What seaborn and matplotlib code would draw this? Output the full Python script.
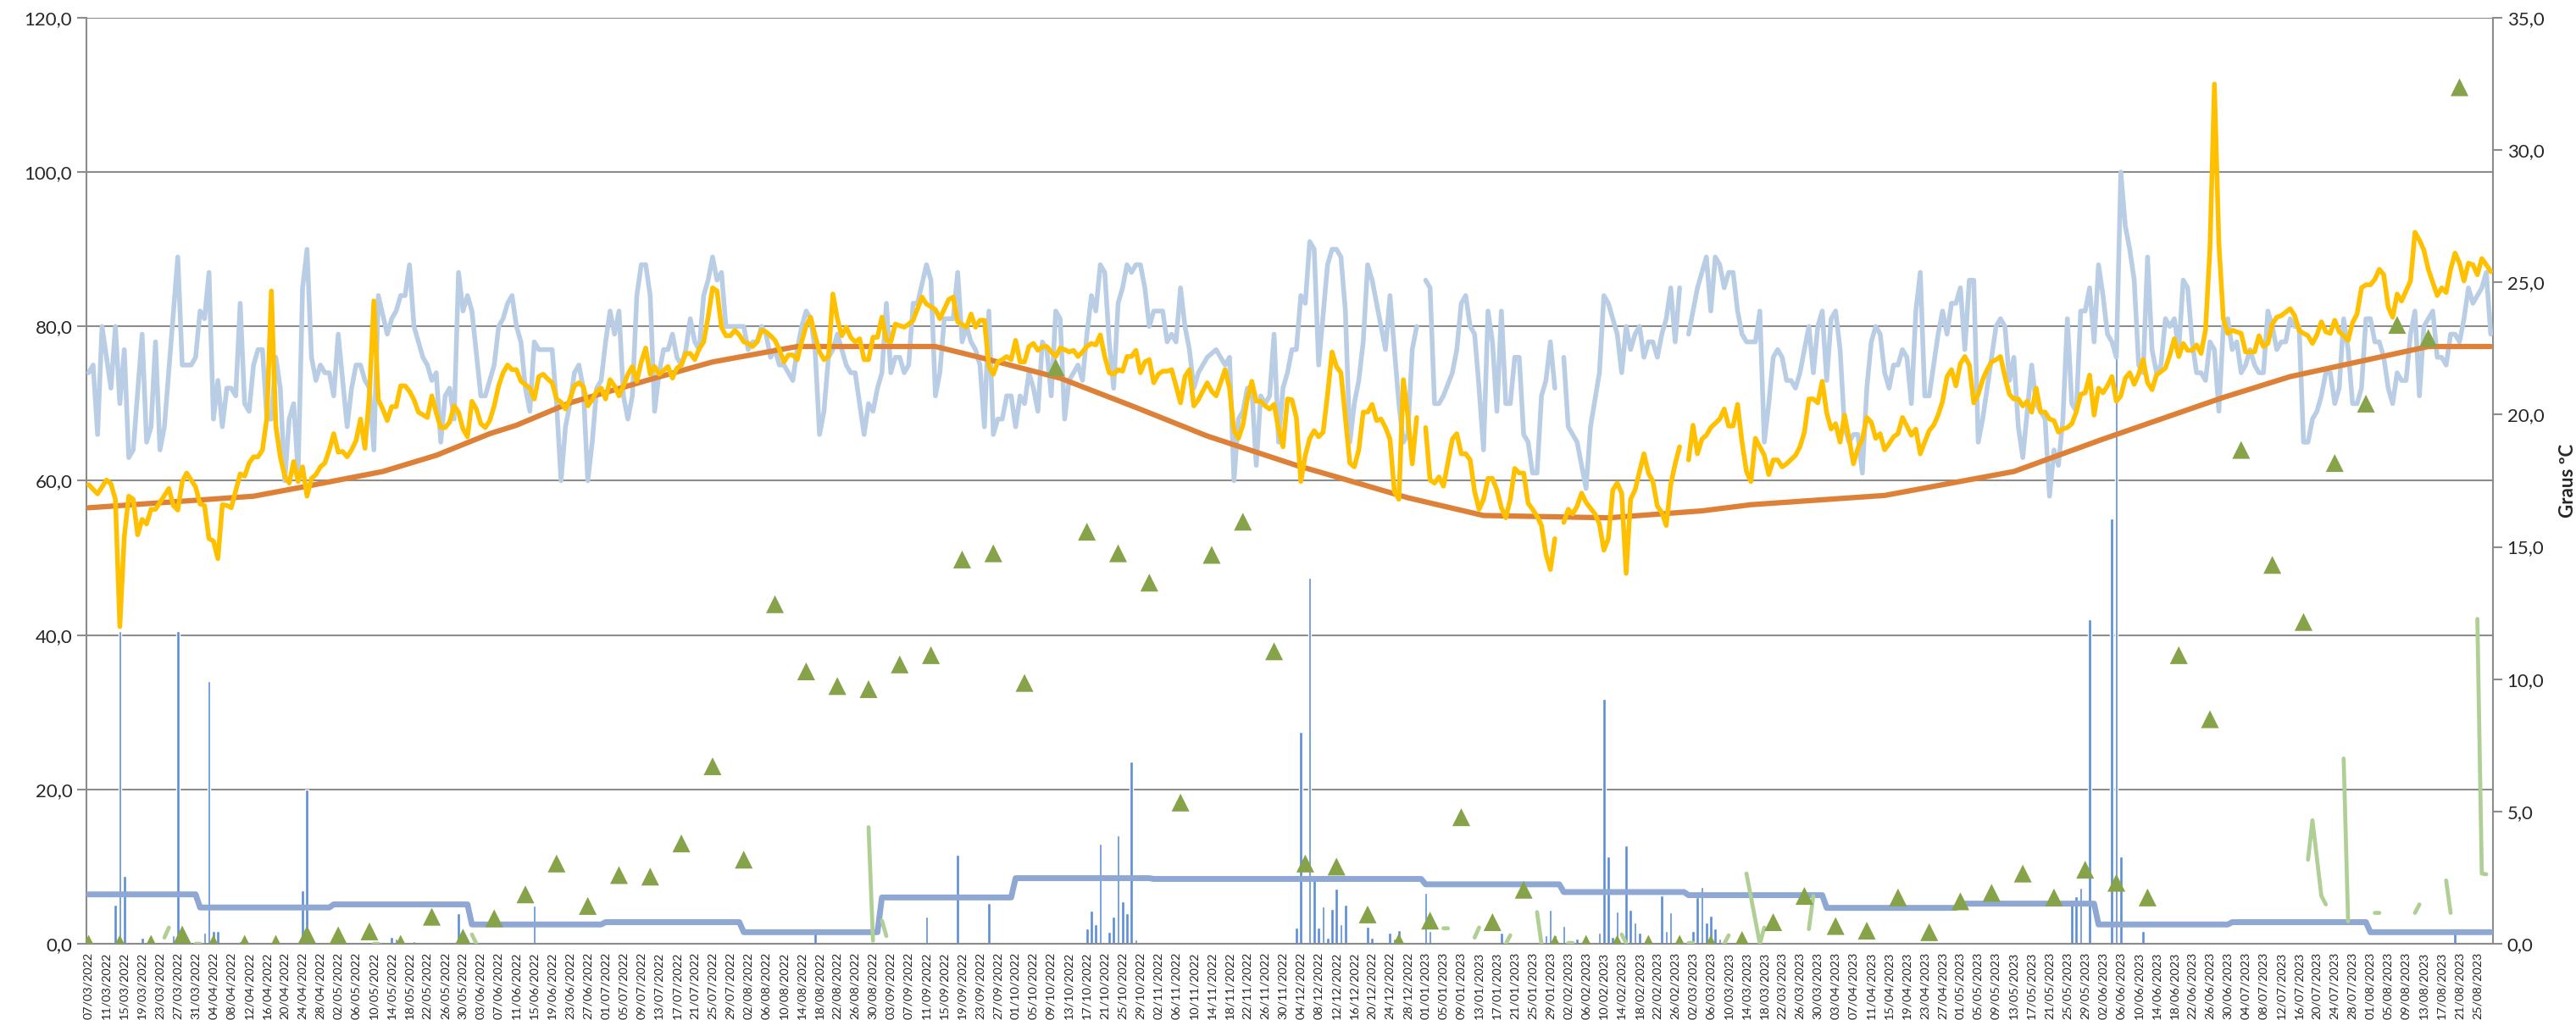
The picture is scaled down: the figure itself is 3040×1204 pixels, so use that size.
import numpy as np
import pandas as pd
import matplotlib
matplotlib.use("Agg")
import matplotlib.pyplot as plt
import matplotlib.ticker as mticker
import seaborn as sns

# daily categories, 07/03/2022 .. 28/08/2023
dates = pd.date_range("2022-03-07", periods=540, freq="D")
tick_labels = dates[::4].strftime("%d/%m/%Y")

# light blue line (read vertices: day index -> value, left axis)
hum_days = [0, 1, 2, 3, 5, 6, 7, 8, 9, 10, 12, 13, 14, 15, 16, 17, 20, 21, 23, 24, 25, 26, 27, 28, 29, 30,
            31, 32, 33, 34, 35, 36, 37, 38, 39, 40, 41, 42, 43, 44, 45, 46, 47, 48, 49, 50, 51, 52, 53, 54,
            55, 56, 58, 59, 60, 61, 62, 63, 64, 65, 67, 68, 69, 70, 71, 72, 73, 75, 76, 77, 78, 79, 80, 81,
            82, 83, 84, 85, 86, 88, 89, 91, 92, 93, 94, 95, 96, 97, 98, 99, 100, 101, 104, 105, 106, 107,
            108, 109, 110, 111, 112, 113, 114, 115, 116, 117, 118, 119, 120, 121, 122, 123, 124, 125, 126,
            127, 128, 129, 130, 131, 132, 133, 134, 135, 136, 137, 138, 139, 140, 141, 142, 143, 144, 147,
            148, 149, 150, 151, 152, 153, 154, 155, 156, 157, 158, 159, 160, 161, 162, 163, 164, 165, 166,
            167, 168, 169, 170, 171, 172, 173, 174, 175, 176, 177, 178, 179, 180, 181, 182, 183, 184, 185,
            186, 188, 189, 190, 191, 192, 194, 195, 196, 197, 198, 199, 200, 201, 202, 203, 204, 205, 206,
            207, 208, 209, 210, 211, 212, 213, 214, 215, 216, 217, 218, 219, 220, 221, 222, 223, 224, 225,
            226, 227, 228, 229, 230, 231, 232, 233, 234, 235, 236, 237, 238, 239, 241, 242, 243, 244, 245,
            246, 247, 248, 249, 250, 251, 253, 254, 255, 256, 257, 258, 259, 260, 261, 262, 263, 264, 265,
            266, 267, 268, 269, 270, 271, 272, 273, 274, 275, 276, 278, 279, 280, 281, 282, 283, 284, 285,
            286, 287, 288, 289, 290, 291, 292, 293, 294, 295, 296, 297, 298, 299, 300, 301, 302, 303, 304,
            306, 307, 308, 309, 310, 311, 312, 313, 314, 315, 316, 317, 318, 319, 320, 321, 322, 323, 324,
            325, 326, 327, 328, 329, 330, 331, 332, 333, 334, 336, 337, 339, 340, 341, 342, 343, 344, 345,
            346, 347, 348, 349, 350, 351, 352, 353, 354, 355, 356, 357, 358, 359, 361, 363, 364, 365, 366,
            367, 368, 369, 370, 371, 372, 374, 375, 376, 377, 378, 379, 380, 381, 382, 383, 384, 385, 386,
            387, 388, 389, 390, 391, 392, 393, 394, 395, 396, 397, 398, 399, 400, 401, 402, 403, 404, 405,
            406, 407, 408, 409, 410, 411, 412, 413, 414, 415, 416, 417, 418, 419, 420, 421, 422, 423, 424,
            425, 426, 427, 428, 429, 430, 431, 432, 433, 434, 435, 436, 437, 438, 439, 440, 441, 442, 443,
            444, 445, 446, 447, 448, 449, 450, 451, 452, 453, 454, 455, 456, 457, 458, 459, 460, 461, 462,
            463, 464, 465, 466, 467, 468, 469, 470, 471, 472, 473, 474, 475, 476, 477, 478, 479, 480, 481,
            482, 483, 484, 485, 486, 487, 488, 489, 490, 491, 492, 493, 494, 495, 496, 497, 498, 499, 500,
            501, 502, 503, 504, 505, 506, 507, 508, 509, 510, 511, 512, 513, 514, 515, 516, 517, 518, 519,
            520, 521, 522, 523, 524, 525, 526, 527, 528, 529, 530, 531, 532, 533, 534, 535, 536, 537, 538, 539]
hum_vals = [74, 75, 66, 80, 72, 80, 70, 77, 63, 64, 79, 65, 67, 78, 64, 67, 89, 75, 75, 76, 82, 81, 87, 68, 73, 67,
            72, 72, 71, 83, 70, 69, 75, 77, 77, 68, 68, 76, 72, 60, 68, 70, 61, 85, 90, 76, 73, 75, 74, 74,
            71, 79, 67, 72, 75, 75, 73, 72, 64, 84, 79, 81, 82, 84, 84, 88, 80, 76, 75, 73, 74, 65, 71, 72,
            68, 87, 82, 84, 82, 71, 71, 75, 80, 81, 83, 84, 80, 78, 72, 69, 78, 77, 77, 70, 60, 67,
            70, 74, 75, 72, 60, 65, 72, 73, 78, 82, 79, 82, 71, 68, 71, 84, 88, 88, 84,
            69, 74, 77, 77, 79, 76, 75, 77, 81, 78, 77, 84, 86, 89, 86, 87, 80, 80, 80,
            77, 78, 78, 80, 79, 76, 77, 75, 75, 74, 73, 77, 80, 82, 81, 77, 66, 69, 76,
            77, 79, 77, 75, 74, 74, 70, 66, 70, 69, 72, 74, 83, 74, 76, 76, 74, 75, 83,
            83, 88, 86, 71, 74, 81, 81, 87, 78, 80, 78, 77, 75, 67, 82, 66, 68, 68, 71,
            71, 67, 71, 70, 74, 72, 69, 78, 77, 71, 82, 81, 68, 73, 74, 75, 73, 79, 84,
            82, 88, 87, 78, 72, 83, 85, 88, 87, 88, 88, 85, 80, 82, 82, 78, 79, 78, 85,
            80, 77, 72, 74, 75, 76, 77, 76, 75, 76, 60, 68, 69, 72, 72, 62, 71, 70, 71,
            79, 65, 72, 74, 77, 77, 84, 83, 91, 90, 75, 88, 90, 90, 89, 82, 65, 70, 73,
            78, 88, 86, 83, 80, 77, 84, 77, 70, 65, 66, 77, 80, np.nan, 86, 85, 70, 70, 71,
            74, 77, 83, 84, 80, 79, 72, 64, 82, 78, 69, 82, 70, 70, 76, 76, 66, 65, 61,
            61, 71, 73, 78, 72, np.nan, 76, 67, 66, 65, 59, 67, 74, 84, 83, 81, 79, 74, 80,
            77, 79, 80, 76, 78, 78, 76, 79, 81, 85, 78, 85, np.nan, 79, 85, 89, 82, 89, 88,
            85, 87, 87, 82, 79, 78, 78, 82, 65, 70, 76, 77, 76, 73, 73, 72, 74, 77, 80,
            74, 80, 82, 73, 81, 82, 77, 67, 65, 66, 66, 61, 72, 78, 80, 79, 74, 72, 75,
            75, 77, 76, 70, 82, 87, 71, 71, 75, 79, 82, 79, 83, 83, 85, 77, 86, 86, 65,
            68, 72, 76, 80, 81, 80, 73, 76, 67, 63, 69, 75, 70, 69, 68, 58, 64, 62, 68,
            81, 70, 69, 82, 82, 85, 78, 88, 84, 79, 78, 76, 100, 93, 90, 86, 75, 74, 89,
            77, 74, 75, 81, 80, 81, 77, 86, 85, 78, 74, 74, 73, 78, 77, 69, 80, 81, 77,
            78, 74, 75, 77, 75, 74, 74, 82, 80, 77, 78, 78, 81, 80, 80, 65, 65, 68, 69,
            71, 74, 74, 70, 72, 81, 77, 70, 70, 72, 81, 81, 78, 78, 76, 72, 70, 74, 73,
            73, 79, 82, 71, 80, 81, 82, 76, 76, 75, 79, 79, 78, 81, 85, 83, 84, 85, 87, 79]

# yellow line
yel_days = [0, 2, 4, 5, 6, 7, 8, 9, 10, 11, 12, 13, 14, 15, 16, 18, 19, 20, 21, 22, 24, 25, 26, 27, 28, 29, 30,
            31, 32, 34, 35, 36, 37, 38, 39, 40, 41, 42, 43, 44, 45, 46, 47, 48, 49, 50, 51, 52, 53, 54, 55,
            56, 57, 58, 59, 60, 61, 62, 63, 64, 65, 66, 67, 68, 69, 70, 71, 72, 73, 74, 76, 77, 78, 79, 80,
            81, 82, 83, 84, 85, 86, 87, 88, 89, 90, 91, 92, 93, 94, 95, 96, 97, 99, 100, 101, 102, 103, 104,
            105, 106, 107, 108, 109, 110, 111, 112, 113, 114, 115, 116, 117, 118, 119, 120, 121, 122, 123,
            124, 125, 126, 127, 128, 129, 130, 131, 132, 133, 134, 135, 136, 137, 138, 139, 140, 141, 142,
            143, 144, 145, 146, 147, 148, 149, 150, 151, 152, 153, 154, 155, 156, 157, 158, 159, 160, 161,
            162, 163, 164, 165, 166, 167, 168, 169, 170, 171, 172, 173, 174, 175, 176, 177, 178, 179, 180,
            181, 183, 184, 185, 187, 188, 190, 191, 193, 194, 195, 197, 198, 199, 200, 201, 202, 203, 204,
            205, 206, 207, 208, 209, 210, 211, 212, 213, 214, 215, 216, 217, 218, 219, 220, 221, 222, 223,
            224, 225, 226, 227, 228, 229, 230, 231, 232, 233, 234, 235, 236, 237, 238, 239, 240, 241, 242,
            243, 244, 245, 246, 247, 248, 249, 251, 252, 253, 254, 255, 256, 257, 258, 259, 260, 261, 262,
            263, 264, 265, 266, 267, 268, 269, 270, 271, 272, 273, 274, 275, 276, 277, 278, 279, 280, 281,
            282, 283, 284, 285, 286, 287, 288, 289, 290, 291, 292, 293, 294, 295, 296, 297, 298, 299, 300,
            301, 302, 303, 304, 306, 307, 308, 309, 310, 311, 312, 313, 314, 315, 316, 317, 318, 319, 320,
            321, 322, 323, 324, 325, 326, 327, 328, 329, 330, 331, 332, 333, 334, 335, 336, 338, 339, 340,
            341, 342, 343, 344, 345, 346, 347, 348, 349, 350, 351, 352, 353, 354, 355, 356, 357, 358, 359,
            360, 361, 362, 363, 364, 366, 367, 368, 369, 370, 371, 372, 373, 374, 375, 376, 377, 378, 379,
            380, 381, 383, 384, 385, 386, 387, 388, 389, 390, 391, 392, 393, 394, 395, 396, 397, 398, 399,
            400, 401, 402, 403, 404, 405, 406, 407, 408, 409, 410, 411, 412, 413, 414, 415, 416, 417, 418,
            419, 420, 421, 422, 423, 424, 425, 426, 427, 428, 429, 430, 431, 432, 433, 434, 435, 436, 437,
            438, 439, 440, 441, 442, 443, 444, 445, 446, 447, 448, 449, 450, 451, 452, 453, 454, 455, 456,
            457, 458, 459, 460, 461, 462, 463, 464, 466, 467, 468, 469, 470, 471, 472, 473, 474, 475, 476,
            477, 478, 479, 480, 481, 482, 483, 484, 486, 487, 488, 489, 490, 491, 492, 494, 495, 496, 497,
            498, 499, 500, 501, 502, 503, 504, 505, 506, 507, 508, 509, 510, 511, 512, 513, 514, 515, 516,
            517, 518, 519, 520, 521, 522, 523, 524, 525, 526, 527, 528, 529, 530, 531, 532, 533, 534, 535,
            536, 537, 538, 539]
yel_vals = [59.5, 58.3, 60.1, 59.6, 57.6, 41.1, 52.8, 58.0, 57.6, 53.0, 55.0, 54.4, 56.3, 56.3, 57.2, 59.0, 56.8,
            56.2, 59.9, 61.0, 59.2, 57.0, 56.8, 52.5, 52.2, 49.9, 56.9, 56.8, 56.5, 60.9, 60.6, 62.3, 63.1,
            63.1, 64.0, 68.2, 84.6, 67.1, 63.1, 60.6, 59.7, 62.5, 59.9, 61.8, 58.0, 60.3, 60.8, 61.8, 62.3,
            64.0, 66.1, 63.7, 63.8, 63.1, 64.0, 65.2, 68.0, 64.2, 71.2, 83.3, 70.5, 69.3, 67.8, 69.6, 69.6,
            72.3, 72.3, 71.6, 70.5, 68.9, 68.2, 71.0, 68.8, 66.9, 66.9, 67.6, 69.7, 68.9, 66.7, 65.7, 70.3,
            69.3, 67.4, 66.9, 67.8, 69.7, 72.3, 74.0, 75.0, 74.4, 74.4, 72.9, 72.0, 70.6, 73.5, 73.8, 73.2,
            72.7, 70.6, 70.2, 69.3, 70.6, 72.3, 72.7, 72.2, 69.7, 70.5, 71.6, 72.0, 70.6, 73.1, 72.3, 71.0,
            72.3, 73.8, 74.8, 72.9, 75.4, 77.2, 73.8, 74.8, 73.8, 74.3, 74.8, 73.3, 74.6, 75.0, 76.5, 76.5,
            75.7, 77.1, 78.0, 81.2, 85.0, 84.6, 79.9, 78.8, 78.8, 79.5, 78.9, 78.0, 77.8, 77.4, 78.0, 79.5,
            79.3, 78.8, 78.2, 77.0, 75.4, 76.3, 76.3, 75.7, 78.0, 80.1, 81.2, 78.8, 76.7, 75.7, 76.1, 84.2,
            81.0, 78.8, 79.9, 78.6, 78.0, 78.4, 75.7, 75.7, 78.6, 78.6, 81.2, 78.2, 78.0, 80.3, 79.9, 80.3,
            80.8, 83.8, 82.9, 82.2, 81.0, 83.5, 83.8, 80.6, 79.9, 81.6, 79.9, 80.8, 80.8, 74.8, 73.8, 75.4,
            75.7, 76.1, 75.7, 78.2, 75.4, 75.4, 77.4, 77.8, 76.9, 77.4, 77.4, 76.7, 76.1, 77.2, 77.0, 76.7,
            76.9, 76.1, 76.7, 77.4, 77.8, 77.6, 78.9, 76.1, 74.0, 73.8, 74.4, 74.2, 76.1, 76.1, 76.9, 74.0,
            75.4, 75.7, 72.7, 73.8, 74.2, 74.2, 74.4, 72.3, 70.1, 73.5, 74.4, 69.7, 70.5, 72.7, 71.6, 71.0,
            72.7, 74.4, 72.0, 66.5, 65.5, 67.2, 70.6, 72.9, 70.3, 70.3, 69.7, 69.3, 69.9, 66.7, 64.4, 70.6,
            70.5, 68.2, 59.9, 63.3, 65.5, 66.5, 65.7, 66.3, 71.2, 76.7, 74.8, 74.0, 68.2, 62.3, 61.8, 64.0,
            68.9, 68.9, 69.9, 67.8, 68.0, 66.9, 65.4, 58.6, 57.6, 73.1, 68.5, 62.2, 68.2, np.nan, 66.9, 60.1,
            59.7, 60.5, 59.3, 65.4, 66.1, 63.5, 63.5, 62.7, 58.6, 56.3, 57.6, 60.3, 60.3, 58.8, 56.5, 55.2,
            57.6, 61.6, 61.0, 61.0, 57.1, 56.3, 55.4, 54.2, 50.5, 48.5, 52.5, np.nan, 54.6, 56.3, 55.7,
            56.7, 58.4, 57.2, 55.7, 54.4, 51.0, 52.5, 58.8, 59.7, 58.4, 48.0, 57.6, 58.8, 61.2, 63.5,
            61.0, 59.9, 56.7, 55.9, 54.2, 59.5, 62.2, 64.4, np.nan, 62.7, 67.2, 63.5, 65.4, 65.9, 66.9, 68.0,
            69.3, 67.1, 67.1, 69.9, 65.0, 61.2, 59.9, 65.5, 64.4, 63.3, 60.8, 62.7, 62.7, 61.8, 62.2, 63.3,
            64.4, 66.3, 70.6, 70.6, 70.1, 72.9, 68.8, 66.7, 67.4, 65.0, 68.5, 65.5, 62.2, 64.2, 65.4, 68.2,
            67.6, 65.5, 66.1, 64.0, 64.8, 65.7, 66.1, 68.2, 67.1, 65.9, 66.7, 63.5, 65.0, 66.5, 67.2, 68.5,
            70.3, 73.5, 74.4, 72.3, 75.2, 76.1, 75.0, 70.1, 71.2, 73.1, 74.4, 75.4, 75.7, 76.1, 73.5, 71.2,
            70.6, 70.6, 69.7, 70.3, 68.9, 72.0, 68.9, 68.9, 68.0, 67.8, 66.3, 66.7, 66.9, 67.4, 68.9, 71.2,
            71.4, 73.7, 68.5, 72.0, 71.4, 72.3, 73.5, 70.3, 71.0, 73.3, 74.0, 72.5, 73.8, 75.7, 72.7, 71.8,
            73.7, 74.6, 76.3, 78.4, 76.1, 77.8, 76.9, 76.9, 77.6, 76.5, 79.5, 90.1, 111.4, 90.8, 81.0, 79.1,
            79.5, 79.3, 79.1, 76.7, 76.7, 78.8, 77.4, 77.8, 80.3, 81.2, 81.4, 82.3, 81.4, 79.5, 79.1, 78.8,
            77.8, 78.9, 80.6, 79.3, 79.1, 80.8, 79.3, 78.8, 78.2, 80.5, 81.6, 85.0, 85.4, 85.4, 86.1, 87.4,
            86.7, 82.5, 81.2, 84.2, 83.3, 84.6, 85.9, 92.2, 91.2, 89.9, 87.4, 85.7, 84.0, 85.0, 84.4, 87.4,
            89.5, 88.2, 85.9, 88.2, 88.0, 86.7, 88.8, 88.0, 87.1]

# orange seasonal line
ora_days = [0, 37, 49, 66, 78, 90, 96, 108, 127, 140, 159, 190, 202, 218, 235, 251, 271, 280, 296,
            313, 341, 362, 373, 403, 432, 452, 479, 494, 525, 539]
ora_vals = [56.5, 58.0, 59.3, 61.2, 63.3, 66.1, 67.2, 70.1, 73.3, 75.4, 77.4, 77.4, 75.7, 73.3, 69.5,
            65.8, 62.0, 60.5, 57.8, 55.5, 55.2, 56.1, 56.9, 58.1, 61.2, 65.4, 70.8, 73.5, 77.4, 77.4]

# monthly step line (Mar 2022 .. Aug 2023)
month_vals = [6.4, 4.7, 5.1, 2.5, 2.8, 1.5, 6.0, 8.5, 8.4, 8.4, 7.7, 6.7, 6.3, 4.65, 5.2, 2.5, 2.8, 1.5]

# blue bars
bar_days = [6, 7, 8, 12, 18, 19, 20, 26, 27, 28, 29, 34, 48, 49, 68, 69, 73, 83, 100, 163, 188, 195, 202,
            224, 225, 226, 227, 229, 230, 231, 232, 233, 234, 235,
            271, 272, 274, 275, 276, 277, 278, 279, 280, 281, 282, 287, 288, 292, 293, 294, 300, 301, 302,
            317, 327, 328, 329, 331, 334, 339, 340, 341, 342, 343, 345, 346, 347, 348, 353, 354, 355, 360,
            361, 362, 363, 364, 365, 366, 393, 445, 446, 447, 449, 454, 455, 456, 461, 531]
bar_vals = [5.1, 40.5, 8.8, 0.8, 0.2, 1.1, 40.5, 1.4, 34.0, 1.6, 1.6, 0.3, 6.9, 20.0, 0.9, 0.7, 0.3, 4.0, 4.9,
            1.5, 3.5, 11.5, 5.3,
            2.0, 4.3, 2.5, 13.0, 1.5, 3.5, 14.0, 5.5, 4.0, 23.6, 0.5,
            2.1, 27.4, 47.4, 8.2, 2.1, 4.8, 0.8, 4.5, 7.1, 2.5, 5.1, 2.2, 0.8, 1.4, 0.7, 1.8, 6.6, 1.6, 0.2,
            1.4, 1.1, 4.4, 1.1, 2.3, 0.7, 1.4, 31.7, 11.3, 0.9, 4.2, 12.7, 4.4, 2.7, 1.4, 6.3, 1.6, 4.1, 1.6,
            6.0, 7.4, 2.7, 3.6, 2.0, 0.7, 0.2, 5.7, 6.2, 7.2, 42.1, 55.1, 80.0, 11.3, 1.7, 1.9]

# weekly triangles
tri_vals = [0, 0, 0, 1.2, 0, 0, 0, 1.2, 1.1, 1.6, 0, 3.5, 0.8, 3.3, 6.4, 10.4, 4.9, 8.9, 8.7, 13.0,
            23.0, 10.9, 44.0, 35.3, 33.4, 33.0, 36.2, 37.4, 49.8, 50.6, 33.8, 74.7, 53.4, 50.6, 46.8, 18.3,
            50.4, 54.7, 37.9, 10.4, 10.0, 3.8, 0.2, 3.0, 16.4, 2.8, 7.0, 0, 0, 0, 0, 0, 0, 0.5, 2.8, 6.2,
            2.3, 1.7, 6.0, 1.5, 5.5, 6.6, 9.1, 6.0, 9.6, 7.9, 6.0, 37.4, 29.1, 64.0, 49.1, 41.7, 62.3,
            70.0, 80.2, 78.5, 111.0]

# light green broken line (nan = no data)
grn_days = [17, 18, 19, 24, 25, 26, 64, 65, 66, 86, 87, 88, 175, 176, 177, 178, 179, 180,
            304, 305, 306, 311, 312, 313, 318, 319, 320,
            325, 326, 327, 332, 333, 334, 344, 345, 346, 359, 360, 361, 367, 368, 369, 372, 375, 376, 377,
            386, 387, 388, 498, 499, 501, 502, 503, 506, 507, 508, 513, 514, 515, 522, 523, 524, 529, 530,
            531, 536, 537, 538]
grn_vals = [0.8, 2.1, np.nan, 0, 0, np.nan, 0, 0, np.nan, 1.2, 0, np.nan, 15.1, 0.4, np.nan, 3.0, 1.0, np.nan,
            2.0, 2.0, np.nan, 0.8, 2.1, np.nan,
            0, 1.1, np.nan, 4.1, 0, np.nan, 0.1, 0.1, np.nan, 1.2, 0.1, np.nan, 0.1, 0.1, np.nan, 0, 1.1,
            np.nan, 9.1, 0, 2.1, np.nan, 1.9, 6.2, np.nan, 10.9, 16.0, 6.2, 5.1, np.nan, 24.0, 2.9, np.nan,
            4.0, 4.0, np.nan, 4.0, 5.1, np.nan, 8.2, 4.0, np.nan, 42.1, 9.1, 9.0]

HUM = "#B9CDE5"
YEL = "#FFC000"
ORA = "#DE8138"
BAR = "#5B8ED6"
STEP = "#8EA8D3"
TRI = "#87A34A"
GRN = "#AFCF95"
GRID = "#8C8C8C"

sns.set_theme(style="white")
plt.rcParams["font.family"] = ["Lato", "DejaVu Sans"]

fig = plt.figure(figsize=(30.4, 12.04), dpi=100)
ax = fig.add_axes([0.03355, 0.07475, 0.93421, 0.90781])

month_idx = (dates.year - 2022) * 12 + dates.month - 3
step_df = pd.DataFrame({"day": np.arange(len(dates)), "val": np.array(month_vals)[month_idx]})

ax.bar(bar_days, bar_vals, width=0.7, color=BAR, zorder=2)
sns.lineplot(data=step_df, x="day", y="val", color=STEP, lw=5, ax=ax, zorder=3)
ax.plot(hum_days, hum_vals, color=HUM, lw=4, zorder=4, solid_joinstyle="round")
sns.lineplot(x=ora_days, y=ora_vals, color=ORA, lw=4.5, ax=ax, zorder=5)
ax.plot(yel_days, yel_vals, color=YEL, lw=4, zorder=6, solid_joinstyle="round")
ax.plot(grn_days, grn_vals, color=GRN, lw=3.4, zorder=7, solid_capstyle="round")
sns.scatterplot(x=np.arange(0, 7 * len(tri_vals), 7), y=tri_vals, marker="^", s=230, color=TRI,
                edgecolor="none", ax=ax, zorder=8)

fmt = mticker.FuncFormatter(lambda v, p: f"{v:.1f}".replace(".", ","))
ax.set_xlim(-0.5, 539.5)
ax.set_ylim(0, 120)
ax.set_yticks(np.arange(0, 121, 20))
ax.yaxis.set_major_formatter(fmt)
ax.set_xticks(np.arange(0, 540, 4))
ax.set_xticklabels(tick_labels, rotation=90, fontsize=10.4)
ax.set_xticks(np.arange(-0.5, 540, 1), minor=True)
ax.tick_params(axis="x", which="both", length=4, color=GRID, width=1, pad=3)
ax.tick_params(axis="y", length=8, color=GRID, width=1.5, labelsize=16, pad=4)
ax.set_xlabel("")
ax.set_ylabel("")
ax.yaxis.grid(True, color=GRID, lw=1.5)
ax.set_axisbelow(True)
for s in ["left", "bottom", "right"]:
    ax.spines[s].set_color(GRID)
    ax.spines[s].set_linewidth(1.5)
ax.spines["top"].set_visible(False)

ax2 = ax.twinx()
ax2.set_ylim(0, 35)
ax2.set_yticks(np.arange(0, 36, 5))
ax2.yaxis.set_major_formatter(fmt)
ax2.tick_params(axis="y", length=8, color=GRID, width=1.5, labelsize=16, pad=4)
ax2.set_ylabel("Graus ºC", fontsize=16, fontweight="bold", labelpad=13)
for s in ax2.spines.values():
    s.set_visible(False)

fig.savefig("out.png", dpi=100)
plt.close(fig)
